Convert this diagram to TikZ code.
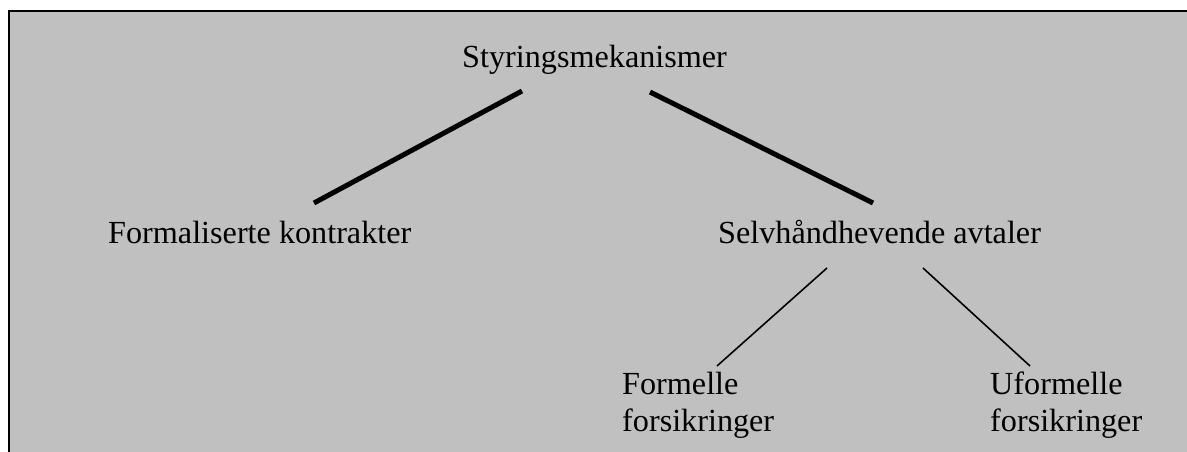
\documentclass[tikz,border=0pt]{standalone}
\usepackage{fontspec}
\setmainfont{Liberation Serif}
\definecolor{panel}{HTML}{C0C0C0}
\begin{document}
\begin{tikzpicture}[x=1pt,y=-1pt,
  label/.style={inner sep=0pt,anchor=base west,align=left,
    font=\fontsize{32.2}{37}\selectfont},
  thickline/.style={line width=5pt},
  thinline/.style={line width=1.6pt}]
\useasboundingbox (0,0) rectangle (1187,452);
% panel with frame on top and left
\fill[panel] (8,10) rectangle (1187,452);
\draw[line width=2.3pt] (1187,11.2) -- (9.2,11.2) -- (9.2,452);

% labels (two-line labels are placed by their last baseline)
\node[label] (root)  at (462,68)  {Styringsmekanismer};
\node[label] (formal) at (108,243) {Formaliserte kontrakter};
\node[label] (self)  at (718,243) {Selvhåndhevende avtaler};
\node[label] (fform) at (622,431) {Formelle\\forsikringer};
\node[label] (uform) at (990,431) {Uformelle\\forsikringer};

% connector ends
\coordinate (rootL) at (522,91);
\coordinate (formalT) at (314,203);
\coordinate (rootR) at (650,92);
\coordinate (selfT) at (873,203);
\coordinate (selfL) at (827,268);
\coordinate (fformT) at (717,366);
\coordinate (selfR) at (923,268);
\coordinate (uformT) at (1030,366);

\draw[thickline] (rootL) -- (formalT);
\draw[thickline] (rootR) -- (selfT);
\draw[thinline] (selfL) -- (fformT);
\draw[thinline] (selfR) -- (uformT);
\end{tikzpicture}
\end{document}
